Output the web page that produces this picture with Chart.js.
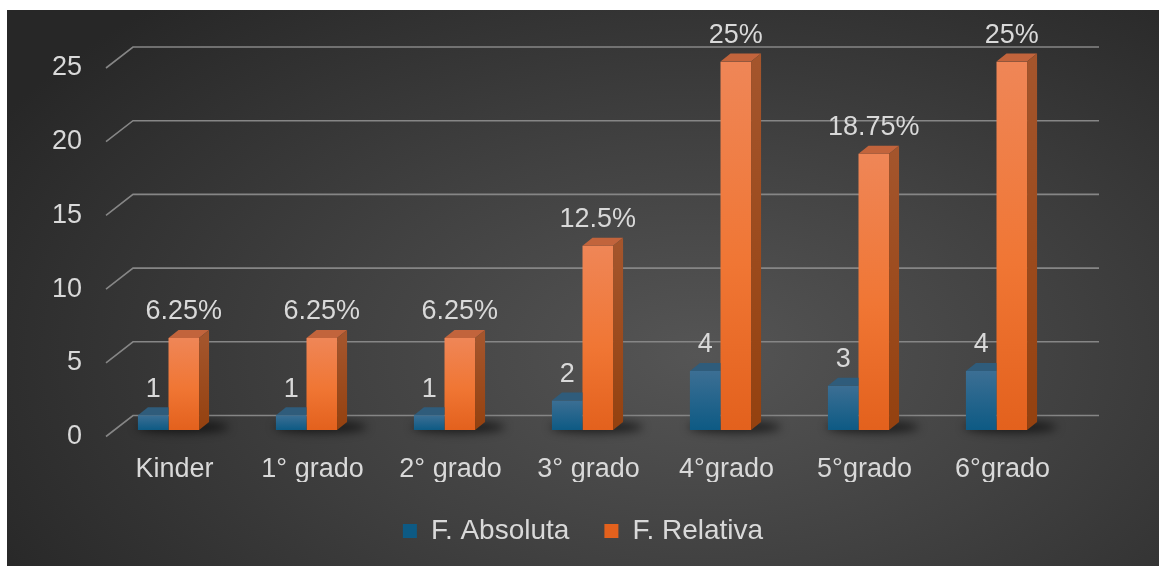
<!DOCTYPE html>
<html>
<head>
<meta charset="utf-8">
<script src="https://cdn.jsdelivr.net/npm/chart.js@4.4.1/dist/chart.umd.min.js"></script>
<style>
    html, body { margin: 0; padding: 0; background: #ffffff; }
    #wrap {
        position: absolute; left: 7px; top: 10px; width: 1152px; height: 556px;
        background: radial-gradient(ellipse 70% 85% at 60% 62%, #555555 0%, #414141 45%, #272727 100%);
    }
</style>
</head>
<body>
<div id="wrap"><canvas id="chart"></canvas></div>
<script>
const categories = ["Kinder", "1° grado", "2° grado", "3° grado", "4°grado", "5°grado", "6°grado"];
const absoluta = [1, 1, 1, 2, 4, 3, 4];
const relativa = [6.25, 6.25, 6.25, 12.5, 25, 18.75, 25];
const seriesNames = ["F. Absoluta", "F. Relativa"];

const FONT = "'Liberation Sans', Arial, sans-serif";
const TEXT = "#d9d9d9";

// 3D look: bar depth and wall offsets relative to the bar plane
const DEPTH_X = 10, DEPTH_Y = 8;

function frontFill(stops, solid) {
    return (c) => {
        const chart = c.chart;
        if (!chart.chartArea || c.type !== "data") return solid;
        const y = chart.scales.y;
        const top = y.getPixelForValue(c.raw);
        const bottom = y.getPixelForValue(0);
        const g = chart.ctx.createLinearGradient(0, top, 0, bottom);
        stops.forEach(([p, col]) => g.addColorStop(p, col));
        return g;
    };
}

const bars3d = {
    id: "bars3d",
    beforeDatasetsDraw(chart) {
        const { ctx, chartArea, scales: { y } } = chart;
        ctx.save();
        // back wall grid lines with the diagonal on the left side wall
        ctx.strokeStyle = "#868686";
        ctx.lineWidth = 1.6;
        y.ticks.forEach(t => {
            const py = y.getPixelForValue(t.value);
            ctx.beginPath();
            ctx.moveTo(chartArea.left + 6.5, py + 6.5);
            ctx.lineTo(chartArea.left + 33.5, py - 14.5);
            ctx.lineTo(chartArea.right + 33.5, py - 14.5);
            ctx.stroke();
        });
        // soft floor shadows
        const m0 = chart.getDatasetMeta(0), m1 = chart.getDatasetMeta(1);
        ctx.filter = "blur(5px)";
        ctx.fillStyle = "rgba(0,0,0,0.6)";
        m0.data.forEach((b0, i) => {
            const b1 = m1.data[i];
            const left = b0.x - b0.width / 2, right = b1.x + b1.width / 2;
            ctx.beginPath();
            ctx.ellipse((left + right) / 2 + 14, b0.base - 3, (right - left) / 2 + 16, 6, 0, 0, Math.PI * 2);
            ctx.fill();
        });
        ctx.restore();
    },
    afterDatasetsDraw(chart) {
        const { ctx } = chart;
        const m0 = chart.getDatasetMeta(0), m1 = chart.getDatasetMeta(1);
        ctx.save();
        m0.data.forEach((b0, i) => {
            const b1 = m1.data[i];
            // blue top face, clipped where the orange bar stands in front of it
            let x0 = b0.x - b0.width / 2, x1 = b0.x + b0.width / 2;
            ctx.save();
            ctx.beginPath();
            ctx.rect(x0 - 1, 0, x1 - x0 + 1, chart.height);
            ctx.clip();
            ctx.fillStyle = "#2f5c7b";
            ctx.beginPath();
            ctx.moveTo(x0, b0.y);
            ctx.lineTo(x1, b0.y);
            ctx.lineTo(x1 + DEPTH_X, b0.y - DEPTH_Y);
            ctx.lineTo(x0 + DEPTH_X, b0.y - DEPTH_Y);
            ctx.closePath();
            ctx.fill();
            ctx.restore();

            // orange top and side faces
            x0 = b1.x - b1.width / 2; x1 = b1.x + b1.width / 2;
            ctx.fillStyle = "#c2643c";
            ctx.beginPath();
            ctx.moveTo(x0, b1.y);
            ctx.lineTo(x1, b1.y);
            ctx.lineTo(x1 + DEPTH_X, b1.y - DEPTH_Y);
            ctx.lineTo(x0 + DEPTH_X, b1.y - DEPTH_Y);
            ctx.closePath();
            ctx.fill();
            const side = ctx.createLinearGradient(0, b1.y, 0, b1.base);
            side.addColorStop(0, "#a4552c");
            side.addColorStop(1, "#94410f");
            ctx.fillStyle = side;
            ctx.beginPath();
            ctx.moveTo(x1, b1.y);
            ctx.lineTo(x1 + DEPTH_X, b1.y - DEPTH_Y);
            ctx.lineTo(x1 + DEPTH_X, b1.base - DEPTH_Y);
            ctx.lineTo(x1, b1.base);
            ctx.closePath();
            ctx.fill();
        });

        // data labels
        ctx.font = "27px " + FONT;
        ctx.fillStyle = TEXT;
        ctx.textAlign = "center";
        ctx.textBaseline = "middle";
        m0.data.forEach((b, i) => ctx.fillText(String(absoluta[i]), b.x, b.y - 26));
        m1.data.forEach((b, i) => ctx.fillText(relativa[i] + "%", b.x, b.y - 26));
        ctx.restore();
    }
};

new Chart(document.getElementById("chart"), {
    type: "bar",
    data: {
        labels: categories,
        datasets: [
            {
                label: seriesNames[0],
                data: absoluta,
                backgroundColor: frontFill([[0, "#3c6f94"], [1, "#0d5a84"]], "#1b6289"),
                borderWidth: 0
            },
            {
                label: seriesNames[1],
                data: relativa,
                backgroundColor: frontFill([[0, "#ef8657"], [0.55, "#f07634"], [1, "#e3611d"]], "#ef7232"),
                borderWidth: 0
            }
        ]
    },
    options: {
        responsive: true,
        maintainAspectRatio: false,
        animation: false,
        layout: { padding: { top: 51.5, right: 0, left: 0, bottom: 11 } },
        datasets: { bar: { categoryPercentage: 0.443, barPercentage: 1 } },
        plugins: {
            tooltip: { enabled: false },
            legend: {
                position: "bottom",
                labels: {
                    color: TEXT,
                    font: { family: FONT, size: 28 },
                    boxWidth: 14,
                    boxHeight: 14,
                    padding: 35
                }
            }
        },
        scales: {
            x: {
                grid: { display: false },
                border: { display: false },
                ticks: {
                    color: TEXT,
                    font: { family: FONT, size: 27 },
                    labelOffset: 6,
                    padding: 15.5,
                    maxRotation: 0
                },
                afterFit: (s) => { s.height = 52; }
            },
            y: {
                min: 0,
                max: 25,
                grid: { display: false, drawTicks: false },
                border: { display: false },
                ticks: {
                    stepSize: 5,
                    color: TEXT,
                    font: { family: FONT, size: 27 },
                    padding: 17.5,
                    labelOffset: 6.5
                },
                afterFit: (s) => { s.width = 92.5; }
            },
            // empty right-hand space, keeps the plot narrower than the legend row
            yRight: {
                position: "right",
                display: true,
                grid: { display: false, drawTicks: false },
                border: { display: false },
                ticks: { display: false },
                afterFit: (s) => { s.width = 93.5; }
            }
        }
    },
    plugins: [bars3d]
});
</script>
</body>
</html>
